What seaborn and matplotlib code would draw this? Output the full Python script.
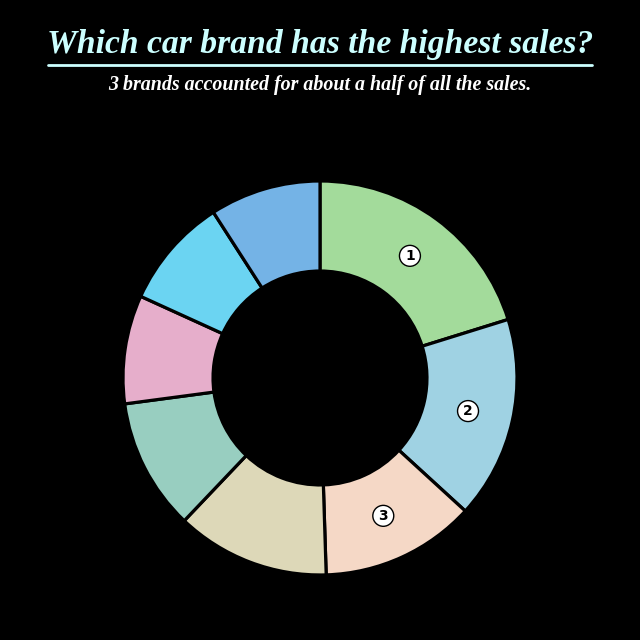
import numpy as np
import seaborn as sns
import matplotlib.pyplot as plt

# share of sales per brand (%), read clockwise from the top
brands = ["1", "2", "3", "4", "5", "6", "7", "8"]
sales = [20.2, 16.6, 12.7, 12.6, 10.8, 8.9, 9.1, 9.1]
ranked = ["1", "2", "3"]

colors = ["#a3db9b", "#9fd2e3", "#f5d8c6", "#ddd8b8",
          "#98cec0", "#e6aecb", "#6bd4f2", "#74b3e6"]

sns.set_style("dark", {"axes.facecolor": "black", "figure.facecolor": "black"})
plt.rcParams['font.family'] = ['Liberation Serif', 'DejaVu Serif']

fig = plt.figure(figsize=(6.4, 6.4), dpi=100)
fig.patch.set_facecolor("black")
ax = fig.add_axes([0.1922, 0.1016, 0.6156, 0.6156])
ax.set_facecolor("black")

wedges, _ = ax.pie(sales, colors=sns.color_palette(colors), startangle=90,
                   counterclock=False, radius=1.0,
                   wedgeprops=dict(width=0.457, edgecolor="black", linewidth=2.3))

# circled rank labels on the top 3 slices
for w, lab in zip(wedges, brands):
    if lab not in ranked:
        continue
    ang = np.deg2rad((w.theta1 + w.theta2) / 2)
    r = 0.77
    ax.text(r * np.cos(ang), r * np.sin(ang), lab, ha="center", va="center",
            fontsize=10, fontweight="bold", color="black", family="DejaVu Sans",
            bbox=dict(boxstyle="circle,pad=0.25", fc="white", ec="black", lw=1))

ax.set_xlim(-1, 1)
ax.set_ylim(-1, 1)
ax.set_aspect("equal")
ax.axis("off")

fig.text(0.5, 1 - 44 / 640, "Which car brand has the highest sales?", ha="center", va="center",
         fontsize=24.2, fontweight="bold", style="italic", color="#ccffff")
fig.add_artist(plt.Line2D([48 / 640, 592 / 640], [1 - 65 / 640, 1 - 65 / 640],
                          color="#ccffff", lw=2, transform=fig.transFigure))
fig.text(0.5, 1 - 85 / 640, "3 brands accounted for about a half of all the sales.", ha="center",
         va="center", fontsize=14.4, fontweight="bold", style="italic", color="white")

plt.savefig("out.png", dpi=100, facecolor="black")
